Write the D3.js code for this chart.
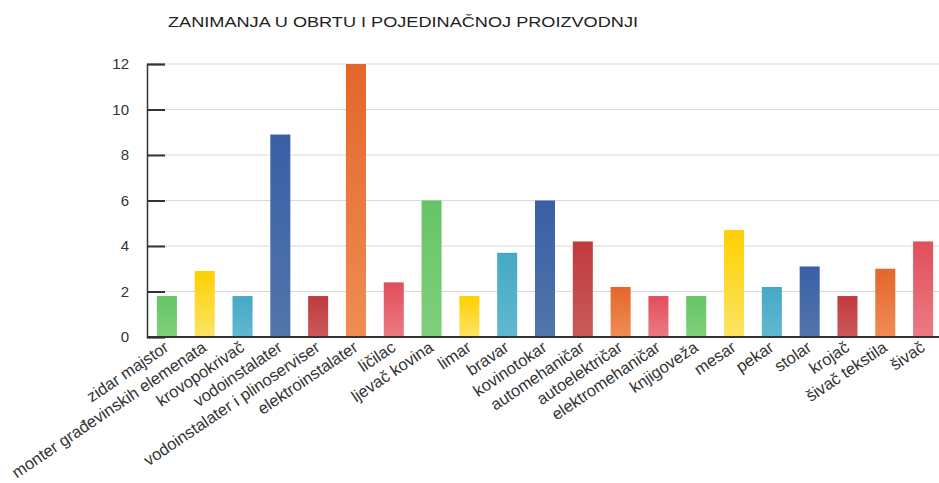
<!DOCTYPE html>
<html lang="hr">
<head>
<meta charset="utf-8">
<title>Zanimanja u obrtu i pojedinačnoj proizvodnji</title>
<script src="https://cdn.jsdelivr.net/npm/d3@7"></script>
<style>
  body { margin: 0; background: #fff; }
  text { font-family: "Liberation Sans", Arial, sans-serif; }
</style>
</head>
<body>
<script type="text/javascript">

var width = 939;
var height = 483;

var categories = ["zidar majstor", "monter građevinskih elemenata", "krovopokrivač",
  "vodoinstalater", "vodoinstalater i plinoserviser", "elektroinstalater", "ličilac",
  "ljevač kovina", "limar", "bravar", "kovinotokar", "automehaničar", "autoelektričar",
  "elektromehaničar", "knjigoveža", "mesar", "pekar", "stolar", "krojač",
  "šivač tekstila", "šivač"];
var values = [1.8, 2.9, 1.8, 8.9, 1.8, 12, 2.4, 6, 1.8, 3.7, 6, 4.2, 2.2, 1.8, 1.8,
  4.7, 2.2, 3.1, 1.8, 3.0, 4.2];
var yTicks = [0, 2, 4, 6, 8, 10, 12];

// colour cycle: [top, bottom] of each bar gradient
var palette = [
  ["#66c466", "#7fd07c"],
  ["#fdd000", "#fde466"],
  ["#45a9c6", "#62b8d0"],
  ["#3a5fa6", "#5275aa"],
  ["#c23a3d", "#c95a5a"],
  ["#e4662a", "#ef8d55"],
  ["#e04f5c", "#ec7a83"]
];

var svg = d3.select("body").append("svg")
            .attr("width", width)
            .attr("height", height);

var defs = svg.append("defs");
palette.forEach(function (c, i) {
  var g = defs.append("linearGradient")
              .attr("id", "grad" + i)
              .attr("x1", 0).attr("y1", 0)
              .attr("x2", 0).attr("y2", 1);
  g.append("stop").attr("offset", "0%").attr("stop-color", c[0]);
  g.append("stop").attr("offset", "100%").attr("stop-color", c[1]);
});

var plotLeft = 147, plotRight = 939, plotTop = 64, plotBottom = 337;

var x = d3.scaleBand()
          .domain(categories)
          .range([148, 942])
          .paddingInner(0.47)
          .paddingOuter(0.235);

var y = d3.scaleLinear()
          .domain([0, 12])
          .range([plotBottom, plotTop]);

// title
svg.append("text")
   .attr("x", 168)
   .attr("y", 27)
   .attr("font-size", 14)
   .attr("textLength", 470)
   .attr("lengthAdjust", "spacingAndGlyphs")
   .attr("fill", "#222")
   .text("ZANIMANJA U OBRTU I POJEDINAČNOJ PROIZVODNJI");

// grid lines
svg.append("g")
   .selectAll("line")
   .data(yTicks.filter(function (d) { return d > 0; }))
   .enter()
   .append("line")
   .attr("x1", plotLeft)
   .attr("x2", plotRight)
   .attr("y1", function (d) { return y(d); })
   .attr("y2", function (d) { return y(d); })
   .attr("stroke", "#d9d9d9")
   .attr("stroke-width", 1.2);

// bars
svg.append("g")
   .selectAll("rect")
   .data(values)
   .enter()
   .append("rect")
   .attr("x", function (d, i) { return x(categories[i]); })
   .attr("y", function (d) { return y(d); })
   .attr("width", x.bandwidth())
   .attr("height", function (d) { return plotBottom - y(d); })
   .attr("fill", function (d, i) { return "url(#grad" + (i % palette.length) + ")"; });

// y axis
var yAxis = svg.append("g")
   .attr("transform", "translate(" + plotLeft + ",0)")
   .call(d3.axisLeft(y).tickValues(yTicks).tickSize(-18).tickPadding(18));
yAxis.select(".domain").attr("stroke", "#333").attr("stroke-width", 1.5);
yAxis.selectAll(".tick line").attr("stroke", "#333").attr("stroke-width", 2);
yAxis.selectAll(".tick text")
     .attr("font-size", 15)
     .attr("fill", "#333")
     .attr("font-family", "Liberation Sans, Arial, sans-serif");

// baseline
svg.append("line")
   .attr("x1", plotLeft)
   .attr("x2", plotRight)
   .attr("y1", plotBottom)
   .attr("y2", plotBottom)
   .attr("stroke", "#333")
   .attr("stroke-width", 2);

// x labels
svg.append("g")
   .selectAll("text")
   .data(categories)
   .enter()
   .append("text")
   .attr("transform", function (d) {
     return "translate(" + (x(d) + x.bandwidth() / 2 + 3) + "," + (plotBottom + 13) + ") rotate(-34)";
   })
   .attr("text-anchor", "end")
   .attr("font-size", 16.5)
   .attr("fill", "#333")
   .text(function (d) { return d; });

</script>
</body>
</html>
